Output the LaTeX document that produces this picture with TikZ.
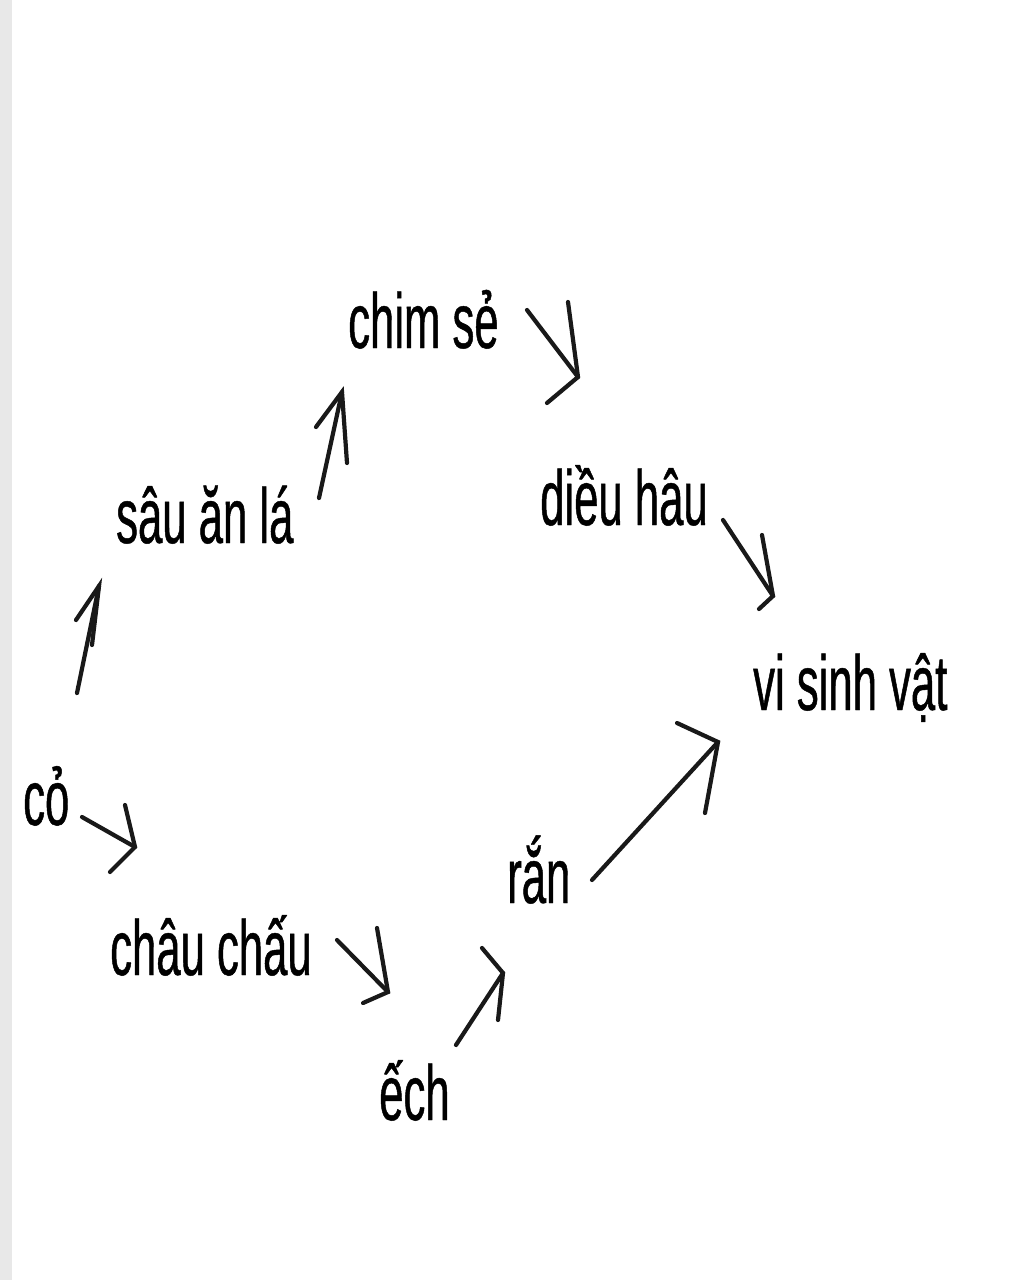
\documentclass[tikz,border=0pt]{standalone}
\usepackage{fontspec}
\newfontfamily\vf{Liberation Sans}[FakeStretch=0.56,FakeBold=0.6]
\definecolor{stripgray}{HTML}{E8E8E8}
\tikzset{
  lbl/.style={anchor=base west, inner sep=0pt, font=\vf\fontsize{78}{90}\selectfont, text=black},
  conn/.style={line width=4.2pt, line cap=round, line join=miter, draw=black!90}
}
\begin{document}
\begin{tikzpicture}[x=1pt,y=-1pt]
\useasboundingbox (0,0) rectangle (1024,1280);
\fill[white] (0,0) rectangle (1024,1280);
\fill[stripgray] (0,0) rectangle (12,1280);

% labels
\node[lbl] (co)   at (23,825)  {cỏ};
\node[lbl] (sau)  at (116,543) {sâu ăn lá};
\node[lbl] (chim) at (348,348) {chim sẻ};
\node[lbl] (dieu) at (540,525) {diều hâu};
\node[lbl] (vsv)  at (753,710) {vi sinh vật};
\node[lbl] (chau) at (110,975) {châu chấu};
\node[lbl] (ech)  at (379,1120) {ếch};
\node[lbl] (ran)  at (507,903) {rắn};

% arrow coordinates: tail, tip, barb 1, barb 2
\coordinate (a1t) at (77,693);  \coordinate (a1h) at (99,586);  \coordinate (a1l) at (76,620);  \coordinate (a1r) at (92,645);
\coordinate (a2t) at (319,498); \coordinate (a2h) at (342,392); \coordinate (a2l) at (316,427); \coordinate (a2r) at (347,463);
\coordinate (a3t) at (527,310); \coordinate (a3h) at (578,377); \coordinate (a3l) at (568,302); \coordinate (a3r) at (547,403);
\coordinate (a4t) at (723,520); \coordinate (a4h) at (773,596); \coordinate (a4l) at (762,535); \coordinate (a4r) at (759,609);
\coordinate (a5t) at (82,817);  \coordinate (a5h) at (135,847); \coordinate (a5l) at (125,805); \coordinate (a5r) at (110,872);
\coordinate (a6t) at (337,940); \coordinate (a6h) at (388,992); \coordinate (a6l) at (377,928); \coordinate (a6r) at (363,1003);
\coordinate (a7t) at (456,1045);\coordinate (a7h) at (503,973); \coordinate (a7l) at (482,948); \coordinate (a7r) at (498,1020);
\coordinate (a8t) at (592,880); \coordinate (a8h) at (718,742); \coordinate (a8l) at (677,723); \coordinate (a8r) at (705,813);

\foreach \i in {1,...,8}{
  \draw[conn] (a\i t) -- (a\i h);
  \draw[conn] (a\i l) -- (a\i h) -- (a\i r);
}
\end{tikzpicture}
\end{document}
